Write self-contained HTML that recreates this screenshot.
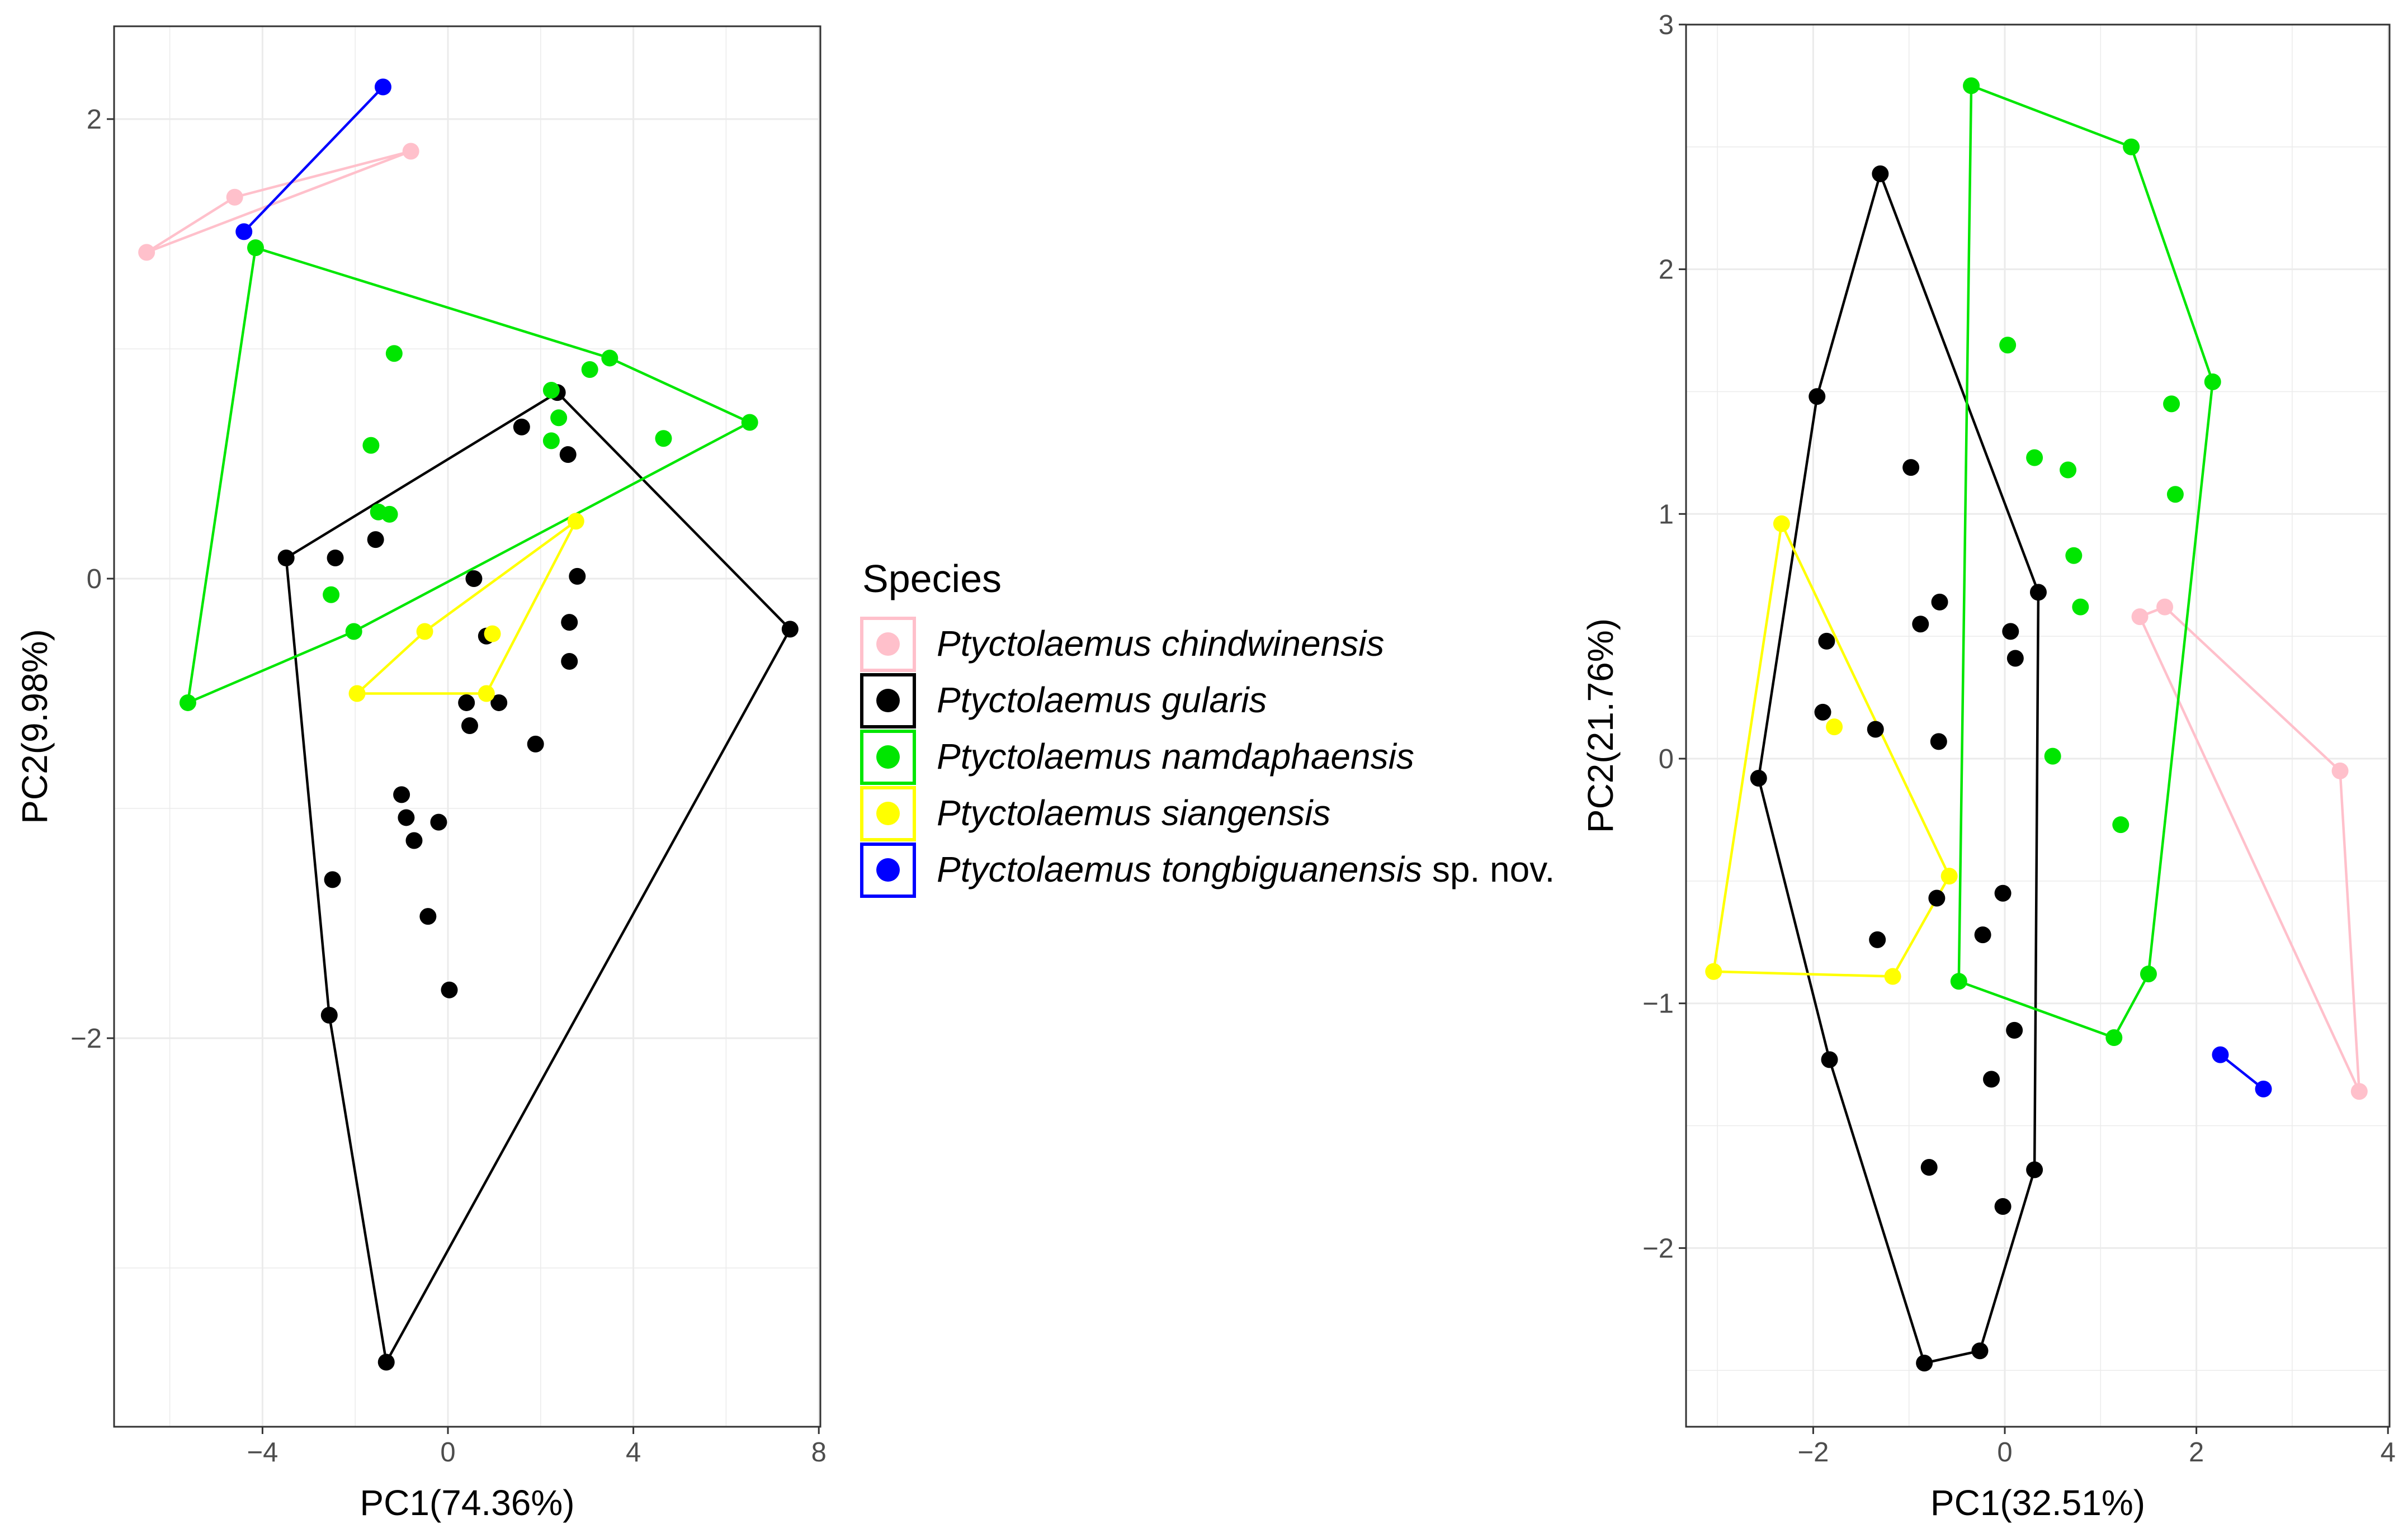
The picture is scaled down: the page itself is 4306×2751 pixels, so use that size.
<!DOCTYPE html>
<html><head><meta charset="utf-8"><style>
html,body{margin:0;padding:0;background:#fff;}
svg{display:block;font-family:"Liberation Sans",sans-serif;}
</style></head><body>
<svg id="chart" width="4306" height="2751" viewBox="0 0 4306 2751" xmlns="http://www.w3.org/2000/svg">
<rect x="0" y="0" width="4306" height="2751" fill="#fff"/>
</svg>
<script>
const speciesNames = ["Ptyctolaemus chindwinensis","Ptyctolaemus gularis","Ptyctolaemus namdaphaensis","Ptyctolaemus siangensis","Ptyctolaemus tongbiguanensis"];
const speciesColors = ["pink","black","#00e600","yellow","blue"];
// Left panel (PC1 74.36%, PC2 9.98%)
const leftPink = [[-6.5,1.42],[-4.6,1.66],[-0.8,1.86]];
const leftBlack = [[-3.49,0.09],[2.36,0.81],[7.38,-0.22],[-1.33,-3.41],[-2.56,-1.90],[-2.43,0.09],[-1.56,0.17],[1.59,0.66],[2.59,0.54],[0.56,0],[2.79,0.01],[2.62,-0.19],[2.62,-0.36],[0.83,-0.25],[0.4,-0.54],[1.1,-0.54],[0.47,-0.64],[1.89,-0.72],[-1.0,-0.94],[-0.9,-1.04],[-0.73,-1.14],[-0.2,-1.06],[-2.49,-1.31],[-0.43,-1.47],[0.03,-1.79]];
const leftGreen = [[-4.15,1.44],[3.49,0.96],[6.51,0.68],[-2.03,-0.23],[-5.61,-0.54],[-1.16,0.98],[3.06,0.91],[2.23,0.82],[2.39,0.70],[2.23,0.60],[4.65,0.61],[-1.66,0.58],[-1.5,0.29],[-1.26,0.28],[-2.52,-0.07]];
const leftYellow = [[2.76,0.25],[-0.5,-0.23],[-1.96,-0.5],[0.83,-0.5],[0.96,-0.24]];
const leftBlue = [[-4.4,1.51],[-1.4,2.14]];
// Right panel (PC1 32.51%, PC2 21.76%)
const rightPink = [[1.41,0.58],[1.67,0.62],[3.5,-0.05],[3.7,-1.36]];
const rightBlack = [[-1.3,2.39],[0.35,0.68],[0.31,-1.68],[-0.26,-2.42],[-0.84,-2.47],[-1.83,-1.23],[-2.57,-0.08],[-1.96,1.48],[-0.98,1.19],[-0.68,0.64],[-0.88,0.55],[-1.86,0.48],[0.06,0.52],[0.11,0.41],[-1.9,0.19],[-1.35,0.12],[-0.69,0.07],[-0.71,-0.57],[-0.02,-0.55],[-0.23,-0.72],[-1.33,-0.74],[0.1,-1.11],[-0.14,-1.31],[-0.79,-1.67],[-0.02,-1.83]];
const rightGreen = [[-0.35,2.75],[1.32,2.50],[2.17,1.54],[1.5,-0.88],[1.14,-1.14],[-0.48,-0.91],[0.03,1.69],[1.74,1.45],[0.31,1.23],[0.66,1.18],[1.78,1.08],[0.72,0.83],[0.79,0.62],[0.5,0.01],[1.21,-0.27]];
const rightYellow = [[-2.33,0.96],[-0.58,-0.48],[-1.17,-0.89],[-3.04,-0.87],[-1.78,0.13]];
const rightBlue = [[2.25,-1.21],[2.7,-1.35]];
const leftXTicks = [-4,0,4,8];
const leftXMinor = [-6,-2,2,6];
const leftYTicks = [-2,0,2];
const leftYMinor = [-3,-1,1];
const rightXTicks = [-2,0,2,4];
const rightXMinor = [-3,-1,1,3];
const rightYTicks = [-2,-1,0,1,2,3];
const rightYMinor = [-2.5,-1.5,-0.5,0.5,1.5,2.5];

const NS = "http://www.w3.org/2000/svg";
const svg = document.getElementById("chart");
function mk(tag, attrs, parent){ const e=document.createElementNS(NS,tag); for(const k in attrs) e.setAttribute(k,attrs[k]); (parent||svg).appendChild(e); return e; }
function lab(v){ return v<0 ? "\u2212"+Math.abs(v) : String(v); }
function hull(pts){
  const p=pts.slice().sort((a,b)=>a[0]-b[0]||a[1]-b[1]);
  if(p.length<3) return p;
  const cr=(o,a,b)=>(a[0]-o[0])*(b[1]-o[1])-(a[1]-o[1])*(b[0]-o[0]);
  const lo=[],up=[];
  for(const q of p){ while(lo.length>=2&&cr(lo[lo.length-2],lo[lo.length-1],q)<=0) lo.pop(); lo.push(q); }
  for(let i=p.length-1;i>=0;i--){ const q=p[i]; while(up.length>=2&&cr(up[up.length-2],up[up.length-1],q)<=0) up.pop(); up.push(q); }
  up.pop(); lo.pop(); return lo.concat(up);
}
function panel(cfg){
  const {name,L,R,T,B,xmin,xmax,ymin,ymax,xt,xm,yt,ym,series,xtitle,ytitle,ytx} = cfg;
  const sx=v=>L+(v-xmin)/(xmax-xmin)*(R-L);
  const sy=v=>B-(v-ymin)/(ymax-ymin)*(B-T);
  const g=mk("g",{});
  
  
  for(const v of xm){ const l=mk("line",{x1:sx(v),x2:sx(v),y1:T,y2:B,stroke:"#ebebeb","stroke-width":1.5},g);   }
  for(const v of ym){ const l=mk("line",{x1:L,x2:R,y1:sy(v),y2:sy(v),stroke:"#ebebeb","stroke-width":1.5},g);   }
  for(const v of xt){ const l=mk("line",{x1:sx(v),x2:sx(v),y1:T,y2:B,stroke:"#ebebeb","stroke-width":3},g);   }
  for(const v of yt){ const l=mk("line",{x1:L,x2:R,y1:sy(v),y2:sy(v),stroke:"#ebebeb","stroke-width":3},g);   }
  series.forEach((pts,i)=>{
    const h=hull(pts);
    const pl=mk("polygon",{points:h.map(p=>sx(p[0])+","+sy(p[1])).join(" "),fill:"none",stroke:speciesColors[i],"stroke-width":4.5,"stroke-linejoin":"round"},g);
    
    
  });
  series.forEach((pts,i)=>{
    for(const p of pts){
      const c=mk("circle",{cx:sx(p[0]),cy:sy(p[1]),r:15,fill:speciesColors[i]},g);
      
      
    }
  });
  const bd=mk("rect",{x:L,y:T,width:R-L,height:B-T,fill:"none",stroke:"#333","stroke-width":3},g);
   
  for(const v of xt){
    const tk=mk("line",{x1:sx(v),x2:sx(v),y1:B,y2:B+13,stroke:"#333","stroke-width":3},g);
     
    const t=mk("text",{x:sx(v),y:B+62,"text-anchor":"middle","font-size":49,fill:"#4d4d4d"},g); t.textContent=lab(v);
     
  }
  for(const v of yt){
    const tk=mk("line",{x1:L-13,x2:L,y1:sy(v),y2:sy(v),stroke:"#333","stroke-width":3},g);
     
    const t=mk("text",{x:L-22,y:sy(v)+17,"text-anchor":"end","font-size":49,fill:"#4d4d4d"},g); t.textContent=lab(v);
     
  }
  const xtl=mk("text",{x:(L+R)/2,y:2710,"text-anchor":"middle","font-size":64,fill:"#000"},g); xtl.textContent=xtitle;
   
  const ytl=mk("text",{x:0,y:0,"text-anchor":"middle","font-size":64,fill:"#000",transform:`translate(${ytx},${(T+B)/2}) rotate(-90)`},g); ytl.textContent=ytitle;
   
}
panel({name:"left-panel",L:204,R:1467,T:47,B:2552,
  xmin:(204-801)/82.9,xmax:(1467-801)/82.9,ymin:(1035-2552)/411,ymax:(1035-47)/411,
  xt:leftXTicks,xm:leftXMinor,yt:leftYTicks,ym:leftYMinor,
  series:[leftPink,leftBlack,leftGreen,leftYellow,leftBlue],
  xtitle:"PC1(74.36%)",ytitle:"PC2(9.98%)",ytx:84});
panel({name:"right-panel",L:3015,R:4273,T:44,B:2552,
  xmin:(3015-3585)/171.3,xmax:(4273-3585)/171.3,ymin:(1357-2552)/437.7,ymax:(1357-44)/437.7,
  xt:rightXTicks,xm:rightXMinor,yt:rightYTicks,ym:rightYMinor,
  series:[rightPink,rightBlack,rightGreen,rightYellow,rightBlue],
  xtitle:"PC1(32.51%)",ytitle:"PC2(21.76%)",ytx:2884});
const lg=mk("g",{});


const lt=mk("text",{x:1542,y:1059,"font-size":70,fill:"#000"},lg); lt.textContent="Species";
 
speciesNames.forEach((n,i)=>{
  const y=1103+i*101;
  const e=mk("g",{},lg);
  
  
  mk("rect",{x:1541,y:y+3,width:94,height:93,fill:"#fff",stroke:speciesColors[i],"stroke-width":6},e);
  mk("circle",{cx:1588,cy:y+49,r:21,fill:speciesColors[i]},e);
  const t=mk("text",{x:1675,y:y+70,"font-size":64,fill:"#000"},e);
  const it=document.createElementNS(NS,"tspan"); it.setAttribute("font-style","italic"); it.textContent=n; t.appendChild(it);
  if(i===4){ const s=document.createElementNS(NS,"tspan"); s.textContent=" sp. nov."; t.appendChild(s); }
});
</script>
</body></html>
